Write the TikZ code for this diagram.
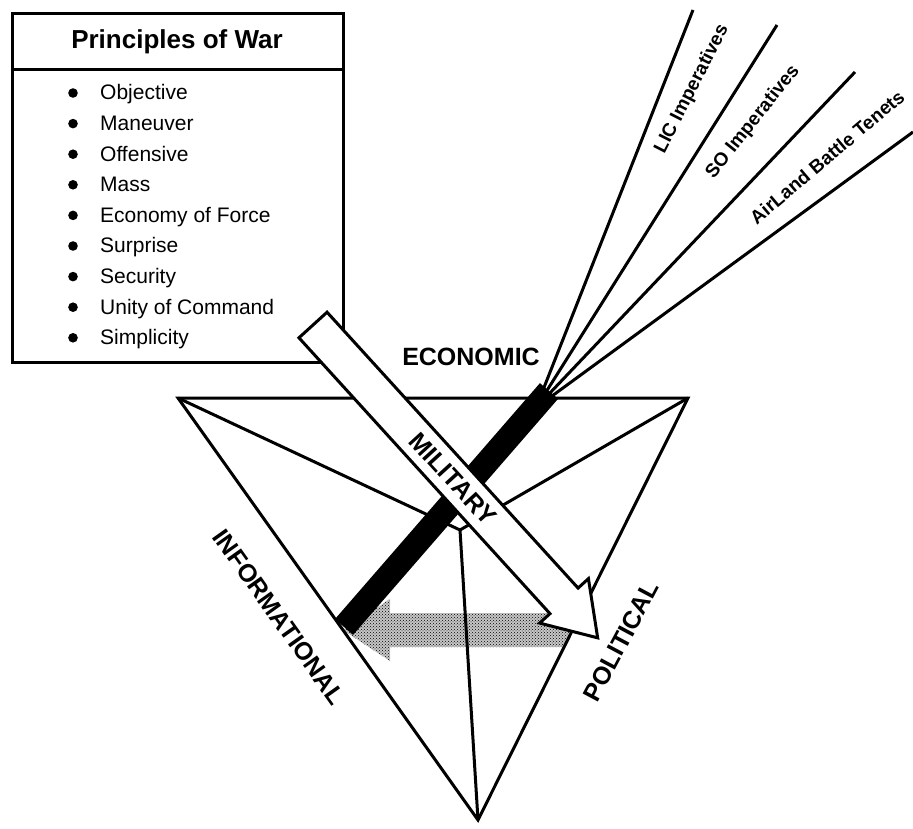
\documentclass[tikz,border=0pt]{standalone}
\usepackage{fontspec}
\setmainfont{Liberation Sans}
\usetikzlibrary{patterns}

\tikzset{
  edge/.style={line width=3pt},
  capslbl/.style={font=\fontsize{25}{25}\selectfont\bfseries, inner sep=0pt},
  fanlbl/.style={font=\fontsize{19}{19}\selectfont\bfseries, inner sep=0pt},
  itemtxt/.style={font=\fontsize{21}{21}\selectfont, anchor=base west, inner sep=0pt},
}

\begin{document}
\begin{tikzpicture}[x=1pt,y=-1pt]
  \useasboundingbox (0,0) rectangle (913,829);
  % triangle corners and the apex seen from above
  \coordinate (tl) at (178,398);
  \coordinate (tr) at (688,398);
  \coordinate (bot) at (478,820);
  \coordinate (apex) at (460,530);
  % shaded arrow, kept inside the triangle
  \begin{scope}
    \clip (tl) -- (tr) -- (bot) -- cycle;
    \fill[black!22] (343,630) -- (390,599) -- (390,613) -- (600,613)
      -- (600,647) -- (390,647) -- (390,661) -- cycle;
    \fill[pattern=crosshatch dots, pattern color=black] (343,630) -- (390,599) -- (390,613) -- (600,613)
      -- (600,647) -- (390,647) -- (390,661) -- cycle;
  \end{scope}
  \draw[edge, line join=miter] (tl) -- (tr) -- (bot) -- cycle;
  \draw[edge] (tl) -- (apex);
  \draw[edge] (tr) -- (apex);
  \draw[edge] (bot) -- (apex);
  % fan of lines out of the bar
  \coordinate (f1) at (693,10);
  \coordinate (f2) at (777,25);
  \coordinate (f3) at (855,72);
  \coordinate (f4) at (913,132);
  \draw[edge] (543,390) -- (f1);
  \draw[edge] (546,392) -- (f2);
  \draw[edge] (549,394) -- (f3);
  \draw[edge] (552,396) -- (f4);
  \node[fanlbl, rotate=63] (lic) at (692,89) {LIC Imperatives};
  \node[fanlbl, rotate=51.5] (so) at (753,122) {SO Imperatives};
  \node[fanlbl, rotate=40.2] (alb) at (827,157) {AirLand Battle Tenets};
  % black bar
  \coordinate (barlo) at (344,627);
  \coordinate (barhi) at (549,391);
  \draw[line width=24pt] (barlo) -- (barhi);
  % list of principles
  \draw[edge] (12,14) rectangle (343,362);
  \draw[edge] (12,70) -- (343,70);
  \node[font=\fontsize{26}{26}\selectfont\bfseries] (title) at (177,42) {Principles of War};
  \foreach \txt [count=\i from 0] in {Objective,Maneuver,Offensive,Mass,Economy of Force,
      Surprise,Security,Unity of Command,Simplicity}{
    \fill (73,{93+30.6*\i}) circle (4.8);
    \node[itemtxt] (item\i) at (100,{100+30.6*\i}) {\txt};
  }
  % white arrow
  \begin{scope}[shift={(313,325)}, rotate=-47.7]
    \filldraw[fill=white, edge, line join=miter] (0,-19) -- (373,-19) -- (373,-33) -- (423,0)
      -- (373,33) -- (373,19) -- (0,19) -- cycle;
    \node[capslbl, transform shape] (mil) at (208,0) {MILITARY};
  \end{scope}
  \node[capslbl] (eco) at (471,357) {ECONOMIC};
  \node[capslbl, rotate=-54.6] (inf) at (279,617) {INFORMATIONAL};
  \node[capslbl, rotate=62] (pol) at (621,641) {POLITICAL};
\end{tikzpicture}
\end{document}
